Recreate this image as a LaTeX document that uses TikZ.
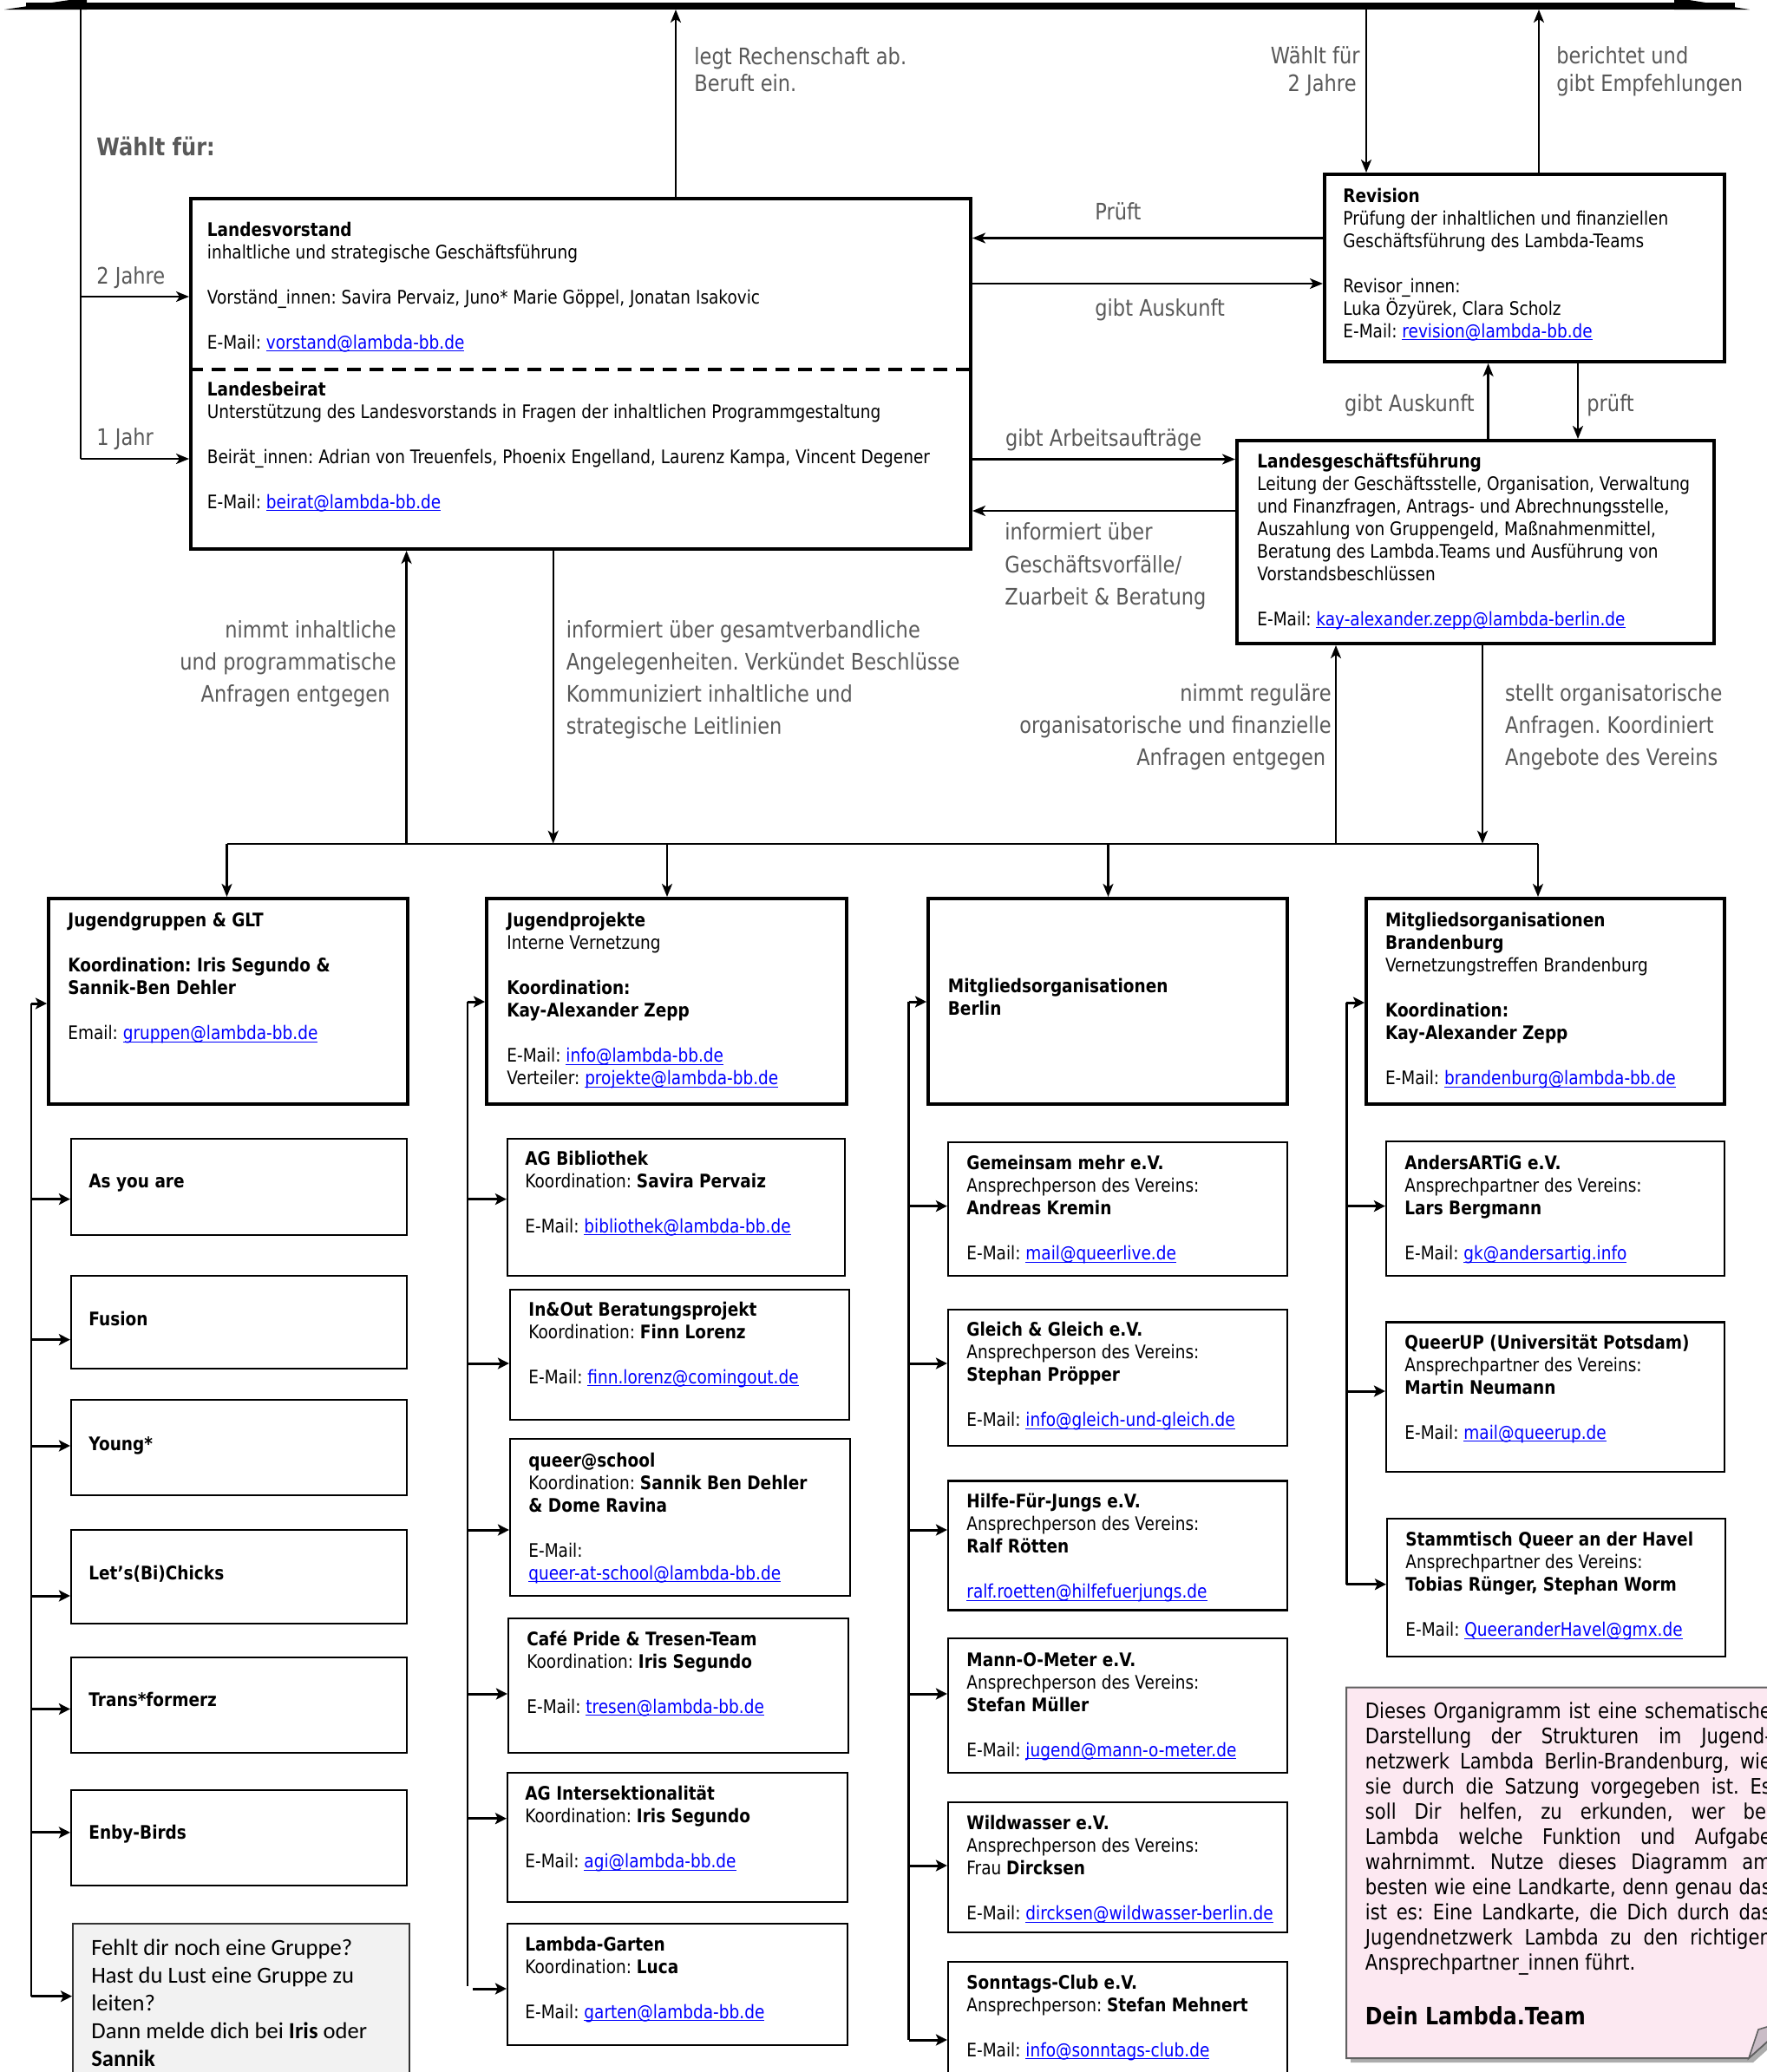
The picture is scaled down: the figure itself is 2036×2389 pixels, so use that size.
\documentclass[tikz,border=0pt]{standalone}
\usepackage{fontspec}
\setmainfont{DejaVu Sans}[FakeStretch=0.86]
\newfontfamily\calib{Carlito}
\usetikzlibrary{arrows.meta,fit}
\frenchspacing
\definecolor{labc}{HTML}{595959}
\definecolor{lnkc}{HTML}{0000FF}
\definecolor{notec}{HTML}{FCE8F1}
\definecolor{fehltc}{HTML}{F2F2F2}
\definecolor{flapc}{HTML}{C9BCC6}
\newcommand\lk[1]{\textcolor{lnkc}{\setbox0\hbox{#1}\rlap{\vrule height -1.1pt depth 1.7pt width \wd0}\box0}}
\newcommand\bodyf{\fontsize{10.75pt}{13pt}\selectfont\frenchspacing}
\newcommand\labf{\fontsize{13.1pt}{16pt}\selectfont\frenchspacing}
\newcommand\tb[2][235pt]{\vtop{\hsize=#1\parindent=0pt\parskip=0pt\raggedright\baselineskip=13pt\relax #2\par}}
\newcommand\bl{\par\vskip13pt}
\newcommand\lbL[3][230pt]{\vtop{\hsize=#1\parindent=0pt\parskip=0pt\raggedright\baselineskip=#2\relax #3\par}}
\newcommand\lbR[3][230pt]{\vtop{\hsize=#1\parindent=0pt\parskip=0pt\raggedleft\baselineskip=#2\relax #3\par}}
\newcommand\sarr[3]{\coordinate (sa) at (#1,#2); \draw[subarr] (sa) -- (sa -| #3.west);}
\begin{document}
\begin{tikzpicture}[x=0.5pt,y=-0.5pt,
  conn/.style={line width=1.2pt},
  arr/.style={line width=1.2pt,-{Stealth[length=7.5pt,width=6pt,inset=2pt]}},
  subarr/.style={line width=1.5pt,-{Stealth[length=6.5pt,width=6.5pt,inset=1.5pt]}},
  head/.style={draw,line width=2pt,inner sep=0pt},
  sub/.style={draw,line width=1.1pt,inner sep=0pt},
  txt/.style={anchor=base west,inner sep=0pt,font=\bodyf},
  lab/.style={inner sep=0pt,text=labc,font=\labf},
]
\fill[white] (0,0) rectangle (2036,2389);
\useasboundingbox (0,0) rectangle (2036,2389);

% top bar
\fill (30,3) rectangle (2000,11);
\fill (5,11) -- (100,-2.9) -- (100,11) -- cycle;
\fill (2017,11) -- (1930,-2.7) -- (1930,11) -- cycle;
\coordinate (tb1) at (93,11);
\coordinate (tb2) at (779,11);
\coordinate (tb3) at (1575,11);
\coordinate (tb4) at (1774,11);

% main boxes
\node[head,fit={(220,229) (1119,633)}] (lv) {};
\draw[line width=2pt,dash pattern=on 8pt off 5pt] (lv.west |- 0,426) -- (lv.east |- 0,426);
\node[head,fit={(1527,201) (1988,417)}] (rev) {};
\node[head,fit={(1426,508) (1976,742)}] (lgf) {};
\node[head,fit={(56,1036) (470,1273)}] (jg) {};
\node[head,fit={(561,1036) (976,1273)}] (jp) {};
\node[head,fit={(1070,1036) (1484,1273)}] (mb) {};
\node[head,fit={(1575,1036) (1988,1273)}] (mbr) {};

% sub boxes
\node[sub,fit={(82,1313) (469,1424)}] (ayr) {};
\node[sub,fit={(82,1471) (469,1578)}] (fus) {};
\node[sub,fit={(82,1614) (469,1724)}] (yng) {};
\node[sub,fit={(82,1764) (469,1872)}] (lbc) {};
\node[sub,fit={(82,1911) (469,2021)}] (tfz) {};
\node[sub,fit={(82,2064) (469,2174)}] (enb) {};
\node[draw=black!80,fill=fehltc,line width=1pt,inner sep=0pt,fit={(84,2218) (472,2420)}] (fehlt) {};
\node[sub,fit={(585,1313) (974,1471)}] (agb) {};
\node[sub,fit={(588,1487) (979,1637)}] (ino) {};
\node[sub,fit={(588,1659) (980,1840)}] (qas) {};
\node[sub,fit={(586,1866) (978,2021)}] (caf) {};
\node[sub,fit={(585,2044) (977,2193)}] (agi) {};
\node[sub,fit={(585,2218) (977,2358)}] (lga) {};
\node[sub,fit={(1093,1317) (1484,1471)}] (gem) {};
\node[sub,fit={(1093,1510) (1484,1667)}] (gug) {};
\node[sub,fit={(1093,1707.5) (1484,1856.4)}] (hfj) {};
\node[sub,fit={(1093,1889) (1484,2044)}] (mom) {};
\node[sub,fit={(1093,2078) (1484,2228)}] (wil) {};
\node[sub,fit={(1093,2262) (1484,2420)}] (son) {};
\node[sub,fit={(1598,1316) (1988,1471)}] (and) {};
\node[sub,fit={(1598,1524.5) (1988,1697)}] (qup) {};
\node[sub,fit={(1599,1751) (1989,1910)}] (stq) {};

% note
\fill[gray!65] (1557,1950.5) -- (2069,1950.5) -- (2069,2335) -- (2021,2378) -- (1557,2378) -- cycle;
\filldraw[fill=notec,draw=gray!75!black,line width=1pt] (1552,1945.5) -- (2064,1945.5) -- (2064,2330) -- (2016,2373) -- (1552,2373) -- cycle;
\filldraw[fill=flapc,draw=gray!75!black,line width=0.8pt] (2016,2373) -- (2027,2340) .. controls (2040,2336) .. (2064,2330) -- cycle;

% texts in main boxes
\node[txt] (lvt) at (238.5,272) {\tb[460pt]{\textbf{Landesvorstand}\par inhaltliche und strategische Geschäftsführung\bl Vorständ\_innen: Savira Pervaiz, Juno* Marie Göppel, Jonatan Isakovic\bl E-Mail: \lk{vorstand@lambda-bb.de}}};
\node[txt] (lbt) at (238.5,456) {\tb[460pt]{\textbf{Landesbeirat}\par Unterstützung des Landesvorstands in Fragen der inhaltlichen Programmgestaltung\bl Beirät\_innen: Adrian von Treuenfels, Phoenix Engelland, Laurenz Kampa, Vincent Degener\bl E-Mail: \lk{beirat@lambda-bb.de}}};
\node[txt] (revt) at (1548,233) {\tb{\textbf{Revision}\par Prüfung der inhaltlichen und finanziellen\par Geschäftsführung des Lambda-Teams\bl Revisor\_innen:\par Luka Özyürek, Clara Scholz\par E-Mail: \lk{revision@lambda-bb.de}}};
\node[txt] (lgft) at (1449,539) {\tb[280pt]{\textbf{Landesgeschäftsführung}\par Leitung der Geschäftsstelle, Organisation, Verwaltung\par und Finanzfragen, Antrags- und Abrechnungsstelle,\par Auszahlung von Gruppengeld, Maßnahmenmittel,\par Beratung des Lambda.Teams und Ausführung von\par Vorstandsbeschlüssen\bl E-Mail: \lk{kay-alexander.zepp@lambda-berlin.de}}};
\node[txt] (jgt) at (78,1068.6) {\tb{\textbf{Jugendgruppen \& GLT}\bl\textbf{Koordination: Iris Segundo \&}\par\textbf{Sannik-Ben Dehler}\bl Email: \lk{gruppen@lambda-bb.de}}};
\node[txt] (jpt) at (584,1068.6) {\tb{\textbf{Jugendprojekte}\par Interne Vernetzung\bl\textbf{Koordination:}\par\textbf{Kay-Alexander Zepp}\bl E-Mail: \lk{info@lambda-bb.de}\par Verteiler: \lk{projekte@lambda-bb.de}}};
\node[txt] (mbt) at (1092.5,1144.5) {\tb{\textbf{Mitgliedsorganisationen}\par\textbf{Berlin}}};
\node[txt] (mbrt) at (1596.6,1068.6) {\tb{\textbf{Mitgliedsorganisationen}\par\textbf{Brandenburg}\par Vernetzungstreffen Brandenburg\bl\textbf{Koordination:}\par\textbf{Kay-Alexander Zepp}\bl E-Mail: \lk{brandenburg@lambda-bb.de}}};

% texts in sub boxes
\node[txt] (ayrt) at (102,1369.5) {\textbf{As you are}};
\node[txt] (fust) at (102,1528.4) {\textbf{Fusion}};
\node[txt] (yngt) at (102,1672) {\textbf{Young*}};
\node[txt] (lbct) at (102,1821) {\textbf{Let’s(Bi)Chicks}};
\node[txt] (tfzt) at (102,1967) {\textbf{Trans*formerz}};
\node[txt] (enbt) at (102,2120) {\textbf{Enby-Birds}};
\node[anchor=base west,inner sep=0pt] (fehltt) at (105,2254.5) {\calib\fontsize{13.3pt}{16pt}\selectfont\vtop{\hsize=185pt\parindent=0pt\raggedright\baselineskip=16pt Fehlt dir noch eine Gruppe?\par Hast du Lust eine Gruppe zu\par leiten?\par Dann melde dich bei \textbf{Iris} oder\par\textbf{Sannik}\par}};

\node[txt] (agbt) at (605,1343) {\tb{\textbf{AG Bibliothek}\par Koordination: \textbf{Savira Pervaiz}\bl E-Mail: \lk{bibliothek@lambda-bb.de}}};
\node[txt] (inot) at (609,1517) {\tb{\textbf{In\&Out Beratungsprojekt}\par Koordination: \textbf{Finn Lorenz}\bl E-Mail: \lk{finn.lorenz@comingout.de}}};
\node[txt] (qast) at (609,1691) {\tb{\textbf{queer@school}\par Koordination: \textbf{Sannik Ben Dehler}\par\textbf{\& Dome Ravina}\bl E-Mail:\par\lk{queer-at-school@lambda-bb.de}}};
\node[txt] (caft) at (607,1897) {\tb{\textbf{Café Pride \& Tresen-Team}\par Koordination: \textbf{Iris Segundo}\bl E-Mail: \lk{tresen@lambda-bb.de}}};
\node[txt] (agit) at (605,2075.5) {\tb{\textbf{AG Intersektionalität}\par Koordination: \textbf{Iris Segundo}\bl E-Mail: \lk{agi@lambda-bb.de}}};
\node[txt] (lgat) at (605,2249) {\tb{\textbf{Lambda-Garten}\par Koordination: \textbf{Luca}\bl E-Mail: \lk{garten@lambda-bb.de}}};

\node[txt] (gemt) at (1114,1348.5) {\tb{\textbf{Gemeinsam mehr e.V.}\par Ansprechperson des Vereins:\par\textbf{Andreas Kremin}\bl E-Mail: \lk{mail@queerlive.de}}};
\node[txt] (gugt) at (1114,1540.5) {\tb{\textbf{Gleich \& Gleich e.V.}\par Ansprechperson des Vereins:\par\textbf{Stephan Pröpper}\bl E-Mail: \lk{info@gleich-und-gleich.de}}};
\node[txt] (hfjt) at (1114,1738.5) {\tb{\textbf{Hilfe-Für-Jungs e.V.}\par Ansprechperson des Vereins:\par\textbf{Ralf Rötten}\bl\lk{ralf.roetten@hilfefuerjungs.de}}};
\node[txt] (momt) at (1114,1921) {\tb{\textbf{Mann-O-Meter e.V.}\par Ansprechperson des Vereins:\par\textbf{Stefan Müller}\bl E-Mail: \lk{jugend@mann-o-meter.de}}};
\node[txt] (wilt) at (1114,2109.4) {\tb{\textbf{Wildwasser e.V.}\par Ansprechperson des Vereins:\par Frau \textbf{Dircksen}\bl E-Mail: \lk{dircksen@wildwasser-berlin.de}}};
\node[txt] (sont) at (1114,2293) {\tb{\textbf{Sonntags-Club e.V.}\par Ansprechperson: \textbf{Stefan Mehnert}\bl E-Mail: \lk{info@sonntags-club.de}}};
\node[txt] (andt) at (1619,1348.5) {\tb{\textbf{AndersARTiG e.V.}\par Ansprechpartner des Vereins:\par\textbf{Lars Bergmann}\bl E-Mail: \lk{gk@andersartig.info}}};
\node[txt] (qupt) at (1619,1555) {\tb{\textbf{QueerUP (Universität Potsdam)}\par Ansprechpartner des Vereins:\par\textbf{Martin Neumann}\bl E-Mail: \lk{mail@queerup.de}}};
\node[txt] (stqt) at (1620,1782.8) {\tb{\textbf{Stammtisch Queer an der Havel}\par Ansprechpartner des Vereins:\par\textbf{Tobias Rünger, Stephan Worm}\bl E-Mail: \lk{QueeranderHavel@gmx.de}}};

% note text
\node[anchor=base west,inner sep=0pt] (notet) at (1573.5,1981) {\fontsize{12.3pt}{14.5pt}\selectfont\frenchspacing\vtop{\hsize=234pt\parindent=0pt\parskip=0pt\baselineskip=14.5pt\hyphenpenalty=10000\tolerance=10000 Dieses Organigramm ist eine schematische\linebreak Darstellung der Strukturen im Jugend-\linebreak netzwerk Lambda Berlin-Brandenburg, wie\linebreak sie durch die Satzung vorgegeben ist. Es\linebreak soll Dir helfen, zu erkunden, wer bei\linebreak Lambda welche Funktion und Aufgabe\linebreak wahrnimmt. Nutze dieses Diagramm am\linebreak besten wie eine Landkarte, denn genau das\linebreak ist es: Eine Landkarte, die Dich durch das\linebreak Jugendnetzwerk Lambda zu den richtigen\linebreak Ansprechpartner\_innen führt.\par\vskip 17pt {\fontsize{13.8pt}{16pt}\selectfont\textbf{Dein Lambda.Team}}\par}};

% labels
\node[lab,anchor=base west,font=\fontsize{14pt}{16pt}\selectfont\bfseries] (lwf) at (111,179) {Wählt für:};
\node[lab,anchor=base west] (l2j) at (111,327.5) {2 Jahre};
\node[lab,anchor=base west] (l1j) at (111,513.5) {1 Jahr};
\node[lab,anchor=base west] (lre) at (800,74.5) {\lbL{15.5pt}{legt Rechenschaft ab.\par Beruft ein.}};
\node[lab,anchor=base east] (lwf2) at (1568,73) {\lbR{16.2pt}{Wählt für\par 2 Jahre\hspace*{2pt}}};
\node[lab,anchor=base west] (lbe) at (1794,73) {\lbL{16.2pt}{berichtet und\par gibt Empfehlungen}};
\node[lab,anchor=base west] (lpr) at (1262,253.5) {Prüft};
\node[lab,anchor=base west] (lga1) at (1262,364.5) {gibt Auskunft};
\node[lab,anchor=base east] (lga2) at (1700,474.5) {gibt Auskunft};
\node[lab,anchor=base west] (lpr2) at (1829,474.5) {prüft};
\node[lab,anchor=base west] (lar) at (1158.6,514) {gibt Arbeitsaufträge};
\node[lab,anchor=base west] (lin) at (1158,622.5) {\lbL{18.75pt}{informiert über\par Geschäftsvorfälle/\par Zuarbeit \& Beratung}};
\node[lab,anchor=base east] (lni) at (457,735.5) {\lbR{18.5pt}{nimmt inhaltliche\par und programmatische\par Anfragen entgegen\hspace*{3.5pt}}};
\node[lab,anchor=base west] (lig) at (652.4,735.5) {\lbL[260pt]{18.5pt}{informiert über gesamtverbandliche\par Angelegenheiten. Verkündet Beschlüsse\par Kommuniziert inhaltliche und\par strategische Leitlinien}};
\node[lab,anchor=base east] (lnr) at (1535,808.5) {\lbR{18.5pt}{nimmt reguläre\par organisatorische und finanzielle\par Anfragen entgegen\hspace*{3.2pt}}};
\node[lab,anchor=base west] (lso) at (1734.7,808.5) {\lbL{18.5pt}{stellt organisatorische\par Anfragen. Koordiniert\par Angebote des Vereins}};

% connectors: top
\coordinate (wl2) at (93,342);
\coordinate (wl1) at (93,529);
\draw[conn] (tb1) -- (wl1);
\draw[arr] (wl2) -- (wl2 -| lv.west);
\draw[arr] (wl1) -- (wl1 -| lv.west);
\draw[arr] (lv.north -| tb2) -- (tb2);
\draw[arr] (tb3) -- (tb3 |- rev.north);
\draw[arr] (rev.north -| tb4) -- (tb4);

% connectors: LV / Revision / LGF
\coordinate (ya) at (0,274.5);
\coordinate (yb) at (0,327);
\coordinate (yc) at (0,529.5);
\coordinate (yd) at (0,589);
\coordinate (xa) at (1715.6,0);
\coordinate (xb) at (1819,0);
\draw[arr] (rev.west |- ya) -- (lv.east |- ya);
\draw[arr] (lv.east |- yb) -- (rev.west |- yb);
\draw[arr] (lv.east |- yc) -- (lgf.west |- yc);
\draw[arr] (lgf.west |- yd) -- (lv.east |- yd);
\draw[arr] (lgf.north -| xa) -- (rev.south -| xa);
\draw[arr] (rev.south -| xb) -- (lgf.north -| xb);

% bus
\coordinate (b0) at (261.5,972.7);
\coordinate (b1) at (468.6,972.7);
\coordinate (b2) at (637.7,972.7);
\coordinate (b3) at (769,972.7);
\coordinate (b4) at (1277.5,972.7);
\coordinate (b5) at (1540,972.7);
\coordinate (b6) at (1709,972.7);
\coordinate (b7) at (1773,972.7);
\draw[conn] (b0) -- (b7);
\draw[arr] (b1) -- (b1 |- lv.south);
\draw[arr] (b2 |- lv.south) -- (b2);
\draw[arr] (b5) -- (b5 |- lgf.south);
\draw[arr] (b6 |- lgf.south) -- (b6);
\draw[arr] (b0) -- (b0 |- jg.north);
\draw[arr] (b3) -- (b3 |- jp.north);
\draw[arr] (b4) -- (b4 |- mb.north);
\draw[arr] (b7) -- (b7 |- mbr.north);

% side lines
\draw[conn] (36,1157) -- (36,2301.7);
\sarr{36}{1157}{jg}
\sarr{36}{1382.6}{ayr}
\sarr{36}{1544.6}{fus}
\sarr{36}{1667}{yng}
\sarr{36}{1840}{lbc}
\sarr{36}{1970.5}{tfz}
\sarr{36}{2112.8}{enb}
\sarr{36}{2301.7}{fehlt}

\draw[conn] (539,1155) -- (539,2290);
\sarr{539}{1155}{jp}
\sarr{539}{1382.6}{agb}
\sarr{539}{1572}{ino}
\sarr{539}{1764}{qas}
\sarr{539}{1953}{caf}
\sarr{539}{2096.7}{agi}
\sarr{545}{2293}{lga}

\draw[conn] (1047.6,1155) -- (1047.6,2352);
\sarr{1047.6}{1155}{mb}
\sarr{1047.6}{1390.6}{gem}
\sarr{1047.6}{1572}{gug}
\sarr{1047.6}{1764}{hfj}
\sarr{1047.6}{1953}{mom}
\sarr{1047.6}{2151}{wil}
\sarr{1047.6}{2352}{son}

\draw[conn] (1552.4,1156) -- (1552.4,1826.7);
\sarr{1552.4}{1156}{mbr}
\sarr{1552.4}{1390.6}{and}
\sarr{1552.4}{1604}{qup}
\sarr{1552.4}{1826.7}{stq}
\end{tikzpicture}
\end{document}
